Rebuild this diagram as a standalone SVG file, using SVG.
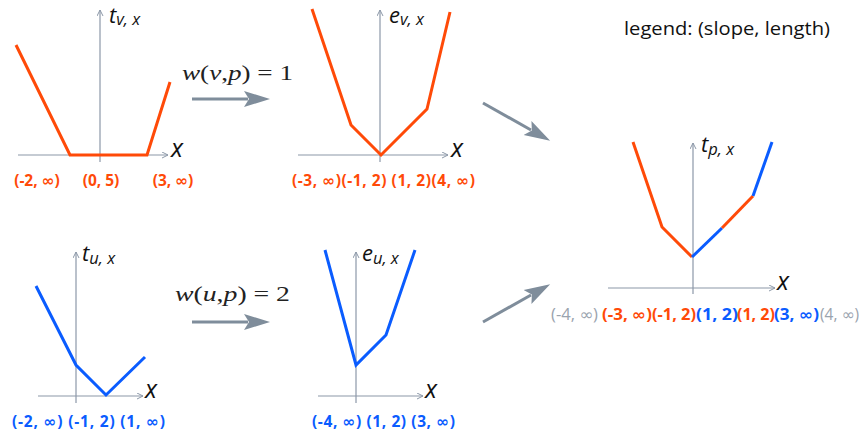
<svg xmlns="http://www.w3.org/2000/svg" width="859" height="438" viewBox="0 0 859 438">
<style>
.ax{stroke:#8c98a8;stroke-width:1.2;fill:none}
.or{stroke:#ff4a08;stroke-width:3;fill:none;stroke-linejoin:miter}
.bl{stroke:#0a5cff;stroke-width:3;fill:none;stroke-linejoin:miter}
.big{stroke:#7f8d9b;stroke-width:3;fill:none}
.lbl{font-family:"Open Sans","Noto Sans",sans-serif;font-weight:bold;font-size:15.5px}
.inf{font-family:"DejaVu Sans",sans-serif}
.lo{fill:#ff4a08}
.lb{fill:#0a5cff}
.lg{fill:#9aa3ae;font-weight:normal}
.ti{font-family:"Open Sans","Noto Sans",sans-serif;font-style:italic;fill:#111;font-size:22px}
.sub{font-size:16.5px}
.xl{font-family:"Open Sans","Noto Sans",sans-serif;font-style:italic;fill:#111;font-size:25px}
.math{font-family:"Liberation Serif","DejaVu Serif",serif;font-size:22px;fill:#222}
.it{font-style:italic}
</style>
<defs>
<marker id="ah" markerWidth="8" markerHeight="8" refX="6" refY="3" orient="auto" markerUnits="userSpaceOnUse">
<path d="M0,0 L6,3 L0,6" fill="none" stroke="#8c98a8" stroke-width="1"/>
</marker>
<marker id="big" markerWidth="30" markerHeight="20" refX="4" refY="10" orient="auto" markerUnits="userSpaceOnUse">
<path d="M0,2 L26,10 L0,18 L5,10 z" fill="#7f8d9b"/>
</marker>
</defs>

<g id="plot-tv">
<line class="ax" x1="100" y1="162" x2="100" y2="10" marker-end="url(#ah)"/>
<line class="ax" x1="18" y1="155" x2="168" y2="155" marker-end="url(#ah)"/>
<polyline class="or" points="16,45 70,155 147,155 170,82"/>
<text class="ti" x="109" y="23">t<tspan class="sub" dy="2">v, x</tspan></text>
<text class="xl" x="171" y="157">x</text>
<text class="lbl lo" x="37" y="186" text-anchor="middle">(-2, <tspan class="inf">∞</tspan>)</text>
<text class="lbl lo" x="101" y="186" text-anchor="middle">(0, 5)</text>
<text class="lbl lo" x="173" y="186" text-anchor="middle">(3, <tspan class="inf">∞</tspan>)</text>
</g>

<g id="plot-ev">
<line class="ax" x1="380" y1="162" x2="380" y2="10" marker-end="url(#ah)"/>
<line class="ax" x1="298" y1="155" x2="448" y2="155" marker-end="url(#ah)"/>
<polyline class="or" points="312,9 351,125 381,155 427,109 450,12"/>
<text class="ti" x="389" y="23">e<tspan class="sub" dy="2">v, x</tspan></text>
<text class="xl" x="451" y="157">x</text>
<text class="lbl lo" x="292" y="186" textLength="183" lengthAdjust="spacing">(-3, <tspan class="inf">∞</tspan>)(-1, 2) (1, 2)(4, <tspan class="inf">∞</tspan>)</text>
</g>

<g id="plot-tu">
<line class="ax" x1="76" y1="403" x2="76" y2="252" marker-end="url(#ah)"/>
<line class="ax" x1="38" y1="396" x2="143" y2="396" marker-end="url(#ah)"/>
<polyline class="bl" points="36,286 76,365 106,395 145,357"/>
<text class="ti" x="82" y="261">t<tspan class="sub" dy="3">u, x</tspan></text>
<text class="xl" x="145" y="398">x</text>
<text class="lbl lb" x="12" y="427" textLength="153" lengthAdjust="spacing">(-2, <tspan class="inf">∞</tspan>) (-1, 2) (1, <tspan class="inf">∞</tspan>)</text>
</g>

<g id="plot-eu">
<line class="ax" x1="356" y1="403" x2="356" y2="252" marker-end="url(#ah)"/>
<line class="ax" x1="318" y1="396" x2="423" y2="396" marker-end="url(#ah)"/>
<polyline class="bl" points="325,250 356,365 386,335 415,250"/>
<text class="ti" x="362" y="261">e<tspan class="sub" dy="3">u, x</tspan></text>
<text class="xl" x="425" y="398">x</text>
<text class="lbl lb" x="312" y="427" textLength="143" lengthAdjust="spacing">(-4, <tspan class="inf">∞</tspan>) (1, 2) (3, <tspan class="inf">∞</tspan>)</text>
</g>

<g id="plot-tp">
<line class="ax" x1="693" y1="294" x2="693" y2="143" marker-end="url(#ah)"/>
<line class="ax" x1="608" y1="288" x2="775" y2="288" marker-end="url(#ah)"/>
<polyline class="or" points="633,142 662,227 692,257"/>
<polyline class="bl" points="692,257 722,228"/>
<polyline class="or" points="722,228 753,196"/>
<polyline class="bl" points="753,196 772,142"/>
<text class="ti" x="701" y="152">t<tspan class="sub" dy="3">p, x</tspan></text>
<text class="xl" x="777" y="290">x</text>
<text class="lbl lg" x="551" y="320" textLength="47" lengthAdjust="spacingAndGlyphs">(-4, <tspan class="inf">∞</tspan>)</text>
<text class="lbl lo" x="602" y="320" textLength="50" lengthAdjust="spacingAndGlyphs">(-3, <tspan class="inf">∞</tspan>)</text>
<text class="lbl lo" x="652" y="320" textLength="44" lengthAdjust="spacingAndGlyphs">(-1, 2)</text>
<text class="lbl lb" x="696" y="320" textLength="42" lengthAdjust="spacingAndGlyphs">(1, 2)</text>
<text class="lbl lo" x="737" y="320" textLength="38" lengthAdjust="spacingAndGlyphs">(1, 2)</text>
<text class="lbl lb" x="774" y="320" textLength="45" lengthAdjust="spacingAndGlyphs">(3, <tspan class="inf">∞</tspan>)</text>
<text class="lbl lg" x="820" y="320" textLength="39" lengthAdjust="spacingAndGlyphs">(4, <tspan class="inf">∞</tspan>)</text>
</g>

<g id="legend">
<text x="624" y="35" font-family="'Open Sans','Noto Sans',sans-serif" font-size="19" fill="#111" textLength="206" lengthAdjust="spacingAndGlyphs">legend: (slope, length)</text>
</g>

<g id="connectors">
<line class="big" x1="192" y1="99" x2="248" y2="99" marker-end="url(#big)"/>
<text class="math" x="182" y="80" textLength="111" lengthAdjust="spacingAndGlyphs"><tspan class="it">w</tspan>(<tspan class="it">v</tspan>,<tspan class="it">p</tspan>) = 1</text>
<line class="big" x1="192" y1="322" x2="248" y2="322" marker-end="url(#big)"/>
<text class="math" x="175" y="301" textLength="115" lengthAdjust="spacingAndGlyphs"><tspan class="it">w</tspan>(<tspan class="it">u</tspan>,<tspan class="it">p</tspan>) = 2</text>
<line class="big" x1="483" y1="103" x2="531" y2="130" marker-end="url(#big)"/>
<line class="big" x1="483" y1="322" x2="531" y2="295" marker-end="url(#big)"/>
</g>
</svg>
